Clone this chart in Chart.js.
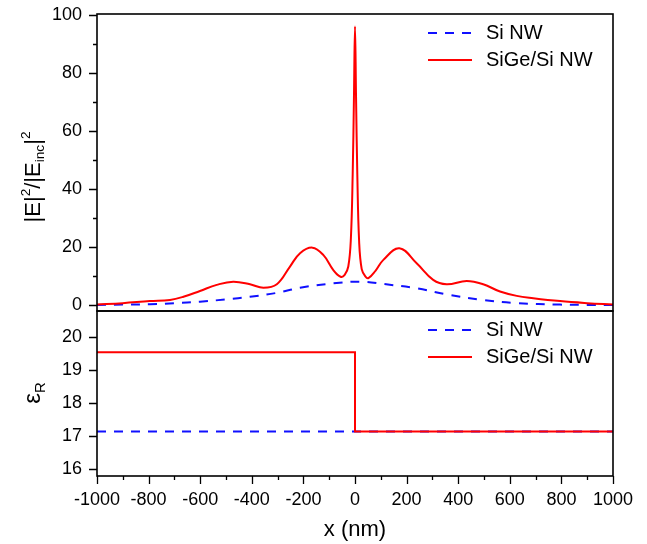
<!DOCTYPE html>
<html>
<head>
<meta charset="utf-8">
<script src="https://cdn.jsdelivr.net/npm/chart.js@4.4.0/dist/chart.umd.min.js"></script>
<style>
  body { margin: 0; background: #fff; }
  #wrap { position: relative; width: 647px; height: 544px; font-family: "Liberation Sans", Arial, sans-serif; color: #000; }
  canvas { position: absolute; left: 0; }
  .ytitle { position: absolute; transform: translate(-50%, -50%) rotate(-90deg); white-space: nowrap; font-size: 22px; line-height: 1; }
  .ytitle sup, .ytitle sub { font-size: 0.62em; }
  .ytitle sup { vertical-align: 0.7em; }
  .ytitle sub { vertical-align: -0.3em; }
</style>
</head>
<body>
<div id="wrap">
  <canvas id="top" width="647" height="312" style="top:0"></canvas>
  <canvas id="bottom" width="647" height="244" style="top:300px"></canvas>
  <div class="ytitle" style="left:33px; top:177px">|E|<sup>2</sup>/|E<sub>inc</sub>|<sup>2</sup></div>
  <div class="ytitle" style="left:34px; top:393px; font-size:24px">&epsilon;<sub>R</sub></div>
</div>
<script>
// field intensity |E|^2/|Einc|^2 along x (nm)
const xSiGe = [-1000, -900, -795, -717, -665, -601, -536, -472, -407, -355, -303, -252, -213, -165, -123, -84, -56, -40, -26, -16, -9, -4, 0, 4, 9, 16, 26, 40, 52, 80, 110, 172, 239, 303, 355, 433, 497, 562, 627, 691, 795, 900, 1000];
const eSiGe = [0.3, 0.8, 1.5, 1.9, 3.0, 5.0, 7.1, 8.2, 7.3, 6.1, 7.3, 13.4, 18.0, 19.9, 17.4, 12.2, 9.9, 10.5, 13.4, 23, 45, 72, 96, 72, 45, 22, 12.5, 10.0, 9.4, 12.0, 15.7, 19.7, 14.5, 8.8, 7.3, 8.4, 7.3, 4.8, 3.3, 2.5, 1.5, 0.8, 0.3];
const xSi = [-1000, -900, -795, -700, -601, -500, -407, -300, -213, -84, 27, 110, 239, 368, 497, 627, 795, 900, 1000];
const eSi = [0.2, 0.3, 0.4, 0.8, 1.3, 2.1, 3.0, 4.4, 6.1, 7.6, 8.2, 7.4, 5.9, 3.6, 1.9, 0.8, 0.3, 0.2, 0.2];

// permittivity profile
const epsXSiGe = [-1000, 0, 0, 1000];
const epsSiGe = [19.53, 19.53, 17.14, 17.14];
const epsXSi = [-1000, 1000];
const epsSi = [17.14, 17.14];

// ticks (labels only on the major ones)
const xTicks = [-1000, -900, -800, -700, -600, -500, -400, -300, -200, -100, 0, 100, 200, 300, 400, 500, 600, 700, 800, 900, 1000];
const xLabelStep = 200;
const eTicks = [0, 10, 20, 30, 40, 50, 60, 70, 80, 90, 100];
const eLabelStep = 20;
const epsTicks = [16, 16.5, 17, 17.5, 18, 18.5, 19, 19.5, 20, 20.5];
const epsLabelStep = 1;

const labels = ['Si NW', 'SiGe/Si NW'];
const blue = '#1010ff';
const red = '#ff0000';

Chart.defaults.color = '#000';
Chart.defaults.font.family = '"Liberation Sans", Arial, sans-serif';
Chart.defaults.font.size = 18;

const pts = (xs, ys) => xs.map((x, i) => ({ x: x, y: ys[i] }));
const isMajor = (v, step) => Math.abs(v / step - Math.round(v / step)) < 1e-6;

// frame, outward ticks and in-plot legend
const decor = {
  id: 'decor',
  afterDraw(chart, args, opts) {
    const { ctx, chartArea: a } = chart;
    ctx.save();
    ctx.strokeStyle = '#000';
    ctx.lineWidth = 1.6;
    ctx.strokeRect(a.left, a.top, a.right - a.left, a.bottom - a.top);

    ctx.lineWidth = 1.3;
    ctx.beginPath();
    const ys = chart.scales.y;
    ys.ticks.forEach(t => {
      const p = Math.round(ys.getPixelForValue(t.value)) + 0.5;
      const len = t.label !== '' ? 8 : 4;
      ctx.moveTo(a.left, p);
      ctx.lineTo(a.left - len, p);
    });
    if (opts.xTicks) {
      const xs = chart.scales.x;
      xs.ticks.forEach(t => {
        const p = Math.round(xs.getPixelForValue(t.value)) + 0.5;
        const len = t.label !== '' ? 8 : 4;
        ctx.moveTo(p, a.bottom);
        ctx.lineTo(p, a.bottom + len);
      });
    }
    ctx.stroke();

    // legend
    ctx.font = '20px "Liberation Sans", Arial, sans-serif';
    ctx.textBaseline = 'middle';
    ctx.fillStyle = '#000';
    chart.data.datasets.forEach((ds, i) => {
      const y = a.top + 19 + i * 27;
      const x0 = a.right - 185;
      ctx.beginPath();
      ctx.strokeStyle = ds.borderColor;
      ctx.lineWidth = ds.borderWidth;
      ctx.setLineDash(ds.borderDash || []);
      ctx.moveTo(x0, y);
      ctx.lineTo(x0 + 44, y);
      ctx.stroke();
      ctx.setLineDash([]);
      ctx.fillText(ds.label, x0 + 58, y);
    });
    ctx.restore();
  }
};

function yAxis(min, max, ticks, step) {
  return {
    type: 'linear',
    min: min,
    max: max,
    grid: { display: false, drawTicks: false },
    border: { display: false },
    afterFit: s => { s.width = 97; s.paddingTop = 0; s.paddingBottom = 0; },
    afterBuildTicks: s => { s.ticks = ticks.map(v => ({ value: v })); },
    ticks: {
      padding: 15,
      callback: v => isMajor(v, step) ? String(v) : ''
    }
  };
}

new Chart(document.getElementById('top'), {
  type: 'line',
  data: {
    datasets: [
      { label: labels[0], data: pts(xSi, eSi), borderColor: blue, borderWidth: 2, borderDash: [9, 8], pointRadius: 0, tension: 0.4, order: 2 },
      { label: labels[1], data: pts(xSiGe, eSiGe), borderColor: red, borderWidth: 2, pointRadius: 0, tension: 0.4, order: 1 }
    ]
  },
  options: {
    responsive: false,
    animation: false,
    layout: { padding: { top: 14, right: 34, bottom: 1, left: 0 } },
    plugins: { legend: { display: false }, tooltip: { enabled: false }, decor: { xTicks: false } },
    scales: {
      x: { type: 'linear', min: -1000, max: 1000, display: false },
      y: yAxis(-1.9, 100.3, eTicks, eLabelStep)
    }
  },
  plugins: [decor]
});

new Chart(document.getElementById('bottom'), {
  type: 'line',
  data: {
    datasets: [
      { label: labels[0], data: pts(epsXSi, epsSi), borderColor: blue, borderWidth: 2, borderDash: [9, 8], pointRadius: 0, order: 2 },
      { label: labels[1], data: pts(epsXSiGe, epsSiGe), borderColor: red, borderWidth: 2, pointRadius: 0, order: 1 }
    ]
  },
  options: {
    responsive: false,
    animation: false,
    layout: { padding: { top: 11, right: 34, bottom: 0, left: 0 } },
    plugins: { legend: { display: false }, tooltip: { enabled: false }, decor: { xTicks: true } },
    scales: {
      x: {
        type: 'linear',
        min: -1000,
        max: 1000,
        grid: { display: false, drawTicks: false },
        border: { display: false },
        afterFit: s => { s.height = 68; s.paddingLeft = 0; s.paddingRight = 0; },
        afterBuildTicks: s => { s.ticks = xTicks.map(v => ({ value: v })); },
        ticks: {
          padding: 13,
          maxRotation: 0,
          autoSkip: false,
          callback: v => isMajor(v, xLabelStep) ? String(v) : ''
        },
        title: { display: true, text: 'x (nm)', font: { size: 22 }, padding: { top: 0, bottom: 1 } }
      },
      y: yAxis(15.8, 20.77, epsTicks, epsLabelStep)
    }
  },
  plugins: [decor]
});
</script>
</body>
</html>
